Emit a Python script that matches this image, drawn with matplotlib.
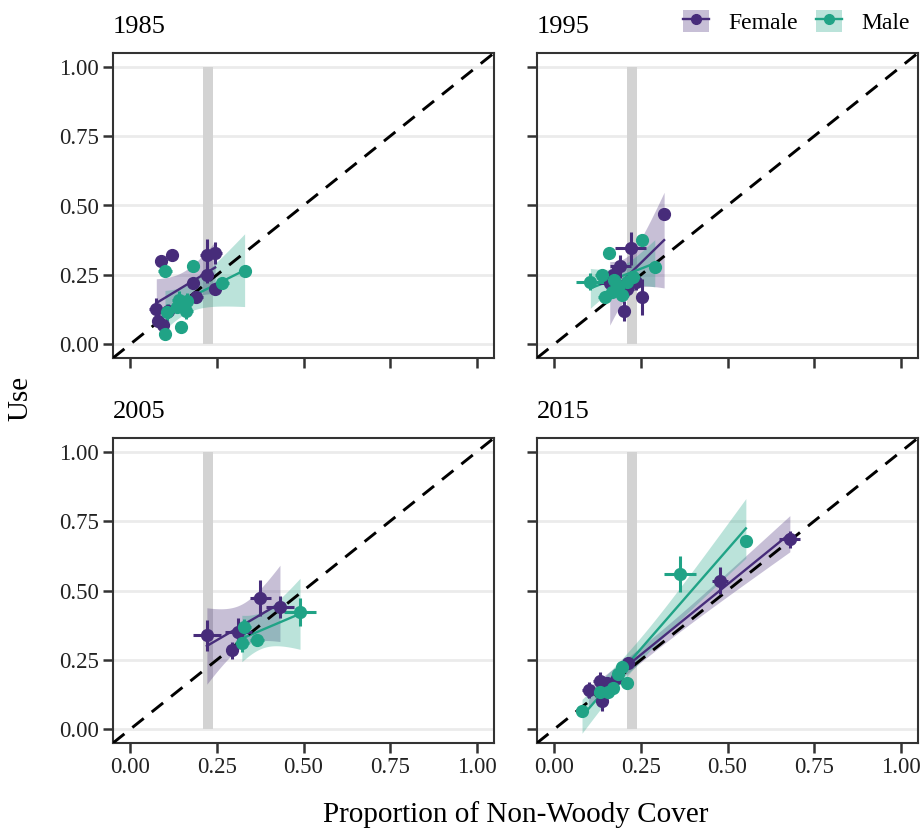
import matplotlib
matplotlib.use('Agg')
import matplotlib.pyplot as plt
from matplotlib.patches import Patch
from matplotlib.lines import Line2D
import numpy as np

plt.rcParams['font.family'] = ['Liberation Serif', 'DejaVu Serif']

# ---- data: proportion of non-woody cover (x) vs use (y) ----
years = ['1985', '1995', '2005', '2015']

f85_x = [0.09, 0.12, 0.22, 0.245, 0.22, 0.245, 0.19, 0.18, 0.075, 0.08, 0.095, 0.11]
f85_y = [0.30, 0.32, 0.32, 0.33, 0.25, 0.20, 0.17, 0.22, 0.125, 0.085, 0.07, 0.12]
f85_xe = [0.01, 0.015, 0.02, 0.02, 0.02, 0.015, 0.02, 0.015, 0.02, 0.015, 0.015, 0.02]
f85_ye = [0.015, 0.02, 0.06, 0.04, 0.03, 0.015, 0.02, 0.02, 0.04, 0.02, 0.02, 0.025]
m85_x = [0.10, 0.18, 0.33, 0.265, 0.14, 0.16, 0.145, 0.10, 0.105, 0.135, 0.165]
m85_y = [0.265, 0.28, 0.265, 0.22, 0.16, 0.12, 0.06, 0.035, 0.115, 0.135, 0.155]
m85_xe = [0.02, 0.01, 0.01, 0.02, 0.02, 0.02, 0.01, 0.01, 0.02, 0.02, 0.02]
m85_ye = [0.02, 0.02, 0.01, 0.02, 0.03, 0.03, 0.015, 0.02, 0.03, 0.02, 0.03]

f95_x = [0.317, 0.22, 0.19, 0.253, 0.20, 0.16, 0.235, 0.17, 0.21]
f95_y = [0.468, 0.345, 0.28, 0.17, 0.12, 0.22, 0.225, 0.25, 0.20]
f95_xe = [0.005, 0.045, 0.03, 0.015, 0.015, 0.03, 0.02, 0.02, 0.02]
f95_ye = [0.005, 0.06, 0.04, 0.065, 0.035, 0.03, 0.03, 0.03, 0.03]
m95_x = [0.253, 0.157, 0.104, 0.29, 0.137, 0.147, 0.171, 0.185, 0.209, 0.228, 0.195, 0.166]
m95_y = [0.375, 0.327, 0.225, 0.279, 0.249, 0.171, 0.231, 0.207, 0.225, 0.243, 0.177, 0.189]
m95_xe = [0.01, 0.01, 0.04, 0.01, 0.02, 0.02, 0.02, 0.02, 0.02, 0.02, 0.02, 0.02]
m95_ye = [0.02, 0.01, 0.03, 0.01, 0.02, 0.02, 0.02, 0.02, 0.02, 0.02, 0.02, 0.02]

f05_x = [0.221, 0.375, 0.432, 0.312, 0.293]
f05_y = [0.338, 0.472, 0.44, 0.35, 0.284]
f05_xe = [0.04, 0.03, 0.04, 0.04, 0.015]
f05_ye = [0.055, 0.065, 0.04, 0.05, 0.03]
m05_x = [0.49, 0.327, 0.365, 0.322]
m05_y = [0.422, 0.368, 0.322, 0.31]
m05_xe = [0.045, 0.02, 0.02, 0.02]
m05_ye = [0.05, 0.03, 0.02, 0.03]

f15_x = [0.099, 0.133, 0.137, 0.152, 0.181, 0.214, 0.478, 0.68]
f15_y = [0.141, 0.175, 0.10, 0.165, 0.183, 0.24, 0.535, 0.685]
f15_xe = [0.02, 0.02, 0.01, 0.02, 0.015, 0.015, 0.024, 0.03]
f15_ye = [0.03, 0.03, 0.035, 0.02, 0.015, 0.02, 0.048, 0.03]
m15_x = [0.363, 0.553, 0.08, 0.133, 0.156, 0.185, 0.195, 0.209, 0.17]
m15_y = [0.56, 0.68, 0.065, 0.135, 0.135, 0.20, 0.224, 0.165, 0.15]
m15_xe = [0.046, 0.005, 0.01, 0.015, 0.015, 0.01, 0.01, 0.01, 0.01]
m15_ye = [0.066, 0.01, 0.01, 0.02, 0.02, 0.02, 0.02, 0.01, 0.01]

female = [(f85_x, f85_y, f85_xe, f85_ye), (f95_x, f95_y, f95_xe, f95_ye),
          (f05_x, f05_y, f05_xe, f05_ye), (f15_x, f15_y, f15_xe, f15_ye)]
male = [(m85_x, m85_y, m85_xe, m85_ye), (m95_x, m95_y, m95_xe, m95_ye),
        (m05_x, m05_y, m05_xe, m05_ye), (m15_x, m15_y, m15_xe, m15_ye)]

avail = (0.21, 0.24)  # available non-woody band

PURPLE = '#472C7A'
GREEN = '#20A386'
ticks = [0.0, 0.25, 0.5, 0.75, 1.0]
tick_labels = ['0.00', '0.25', '0.50', '0.75', '1.00']


def tq(df):
    # rough 97.5% t quantile
    return 1.96 + 2.4 / df + 2.0 / df ** 2


def draw_group(ax, x, y, xe, ye, color):
    x = np.asarray(x)
    y = np.asarray(y)
    n = len(x)
    b, a = np.polyfit(x, y, 1)
    xs = np.linspace(x.min(), x.max(), 80)
    fit = a + b * xs
    resid = y - (a + b * x)
    s = np.sqrt(np.sum(resid ** 2) / (n - 2))
    se = s * np.sqrt(1.0 / n + (xs - x.mean()) ** 2 / np.sum((x - x.mean()) ** 2))
    ax.fill_between(xs, fit - tq(n - 2) * se, fit + tq(n - 2) * se,
                    color=color, alpha=0.3, linewidth=0, zorder=2)
    ax.plot(xs, fit, color=color, linewidth=1.7, zorder=3)


def draw_points(ax, x, y, xe, ye, color):
    ax.errorbar(x, y, xerr=xe, yerr=ye, fmt='o', color=color, markersize=8.5,
                elinewidth=2.2, capsize=0, zorder=5)


fig = plt.figure(figsize=(9.21, 8.30), dpi=100)
W, H = 921, 830
boxes = [(113, 53, 381, 305), (537, 53, 381, 305),
         (113, 438, 381, 305), (537, 438, 381, 305)]

for i, (l, t, w, h) in enumerate(boxes):
    ax = fig.add_axes([l / W, 1 - (t + h) / H, w / W, h / H])
    ax.set_xlim(-0.05, 1.05)
    ax.set_ylim(-0.05, 1.05)
    for yv in ticks:
        ax.axhline(yv, color='#EBEBEB', linewidth=2.0, zorder=0)
    ax.fill_between(avail, [0, 0], [1, 1], color='#D3D3D3', linewidth=0, zorder=1)

    for grp, col in ((female[i], PURPLE), (male[i], GREEN)):
        draw_group(ax, *grp, col)
    ax.plot([-0.05, 1.05], [-0.05, 1.05], color='black', linestyle=(0, (5, 3.5)),
            linewidth=2.1, zorder=4)
    for grp, col in ((female[i], PURPLE), (male[i], GREEN)):
        draw_points(ax, *grp, col)

    ax.set_xticks(ticks)
    ax.set_yticks(ticks)
    ax.set_xticklabels(tick_labels if i >= 2 else [])
    ax.set_yticklabels(tick_labels if i % 2 == 0 else [])
    ax.tick_params(length=7, width=1.8, color='#333333', labelsize=16.5,
                   labelcolor='#222222', pad=3)
    for sp in ax.spines.values():
        sp.set_color('#333333')
        sp.set_linewidth(1.5)
    ax.text(0.0, 1.066, years[i], transform=ax.transAxes, fontsize=19,
            ha='left', va='baseline')

fig.text(516 / W, 1 - 815 / H, 'Proportion of Non-Woody Cover', fontsize=21,
         ha='center', va='center')
fig.text(20 / W, 1 - 398 / H, 'Use', fontsize=21, rotation=90,
         ha='center', va='center')

handles = [(Patch(facecolor=PURPLE, alpha=0.3, edgecolor='none'),
            Line2D([], [], color=PURPLE, marker='o', markersize=7, linewidth=1.7)),
           (Patch(facecolor=GREEN, alpha=0.3, edgecolor='none'),
            Line2D([], [], color=GREEN, marker='o', markersize=7, linewidth=1.7))]
fig.legend(handles, ['Female', 'Male'], loc='center right',
           bbox_to_anchor=(931 / W, 1 - 22 / H), ncol=2, frameon=False,
           fontsize=17, handlelength=1.1, handleheight=1.1, columnspacing=0.8,
           handletextpad=0.8)

fig.savefig('out.png', dpi=100, facecolor='white')
